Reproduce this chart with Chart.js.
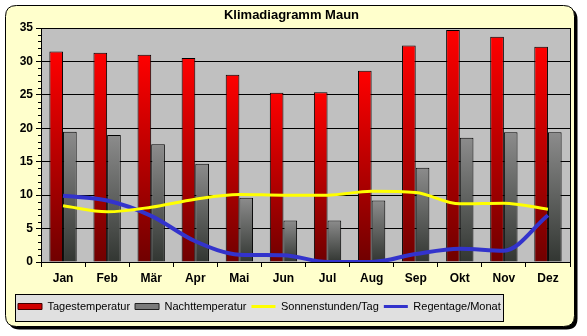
<!DOCTYPE html>
<html>
<head>
<meta charset="utf-8">
<title>Klimadiagramm Maun</title>
<script src="https://cdn.jsdelivr.net/npm/chart.js@4.4.1/dist/chart.umd.min.js"></script>
<style>
  html, body { margin: 0; padding: 0; background: #fff; }
  #wrap { position: relative; width: 587px; height: 336px; }
</style>
</head>
<body>
<div id="wrap"><canvas id="klima" width="587" height="336"></canvas></div>
<script>
// Monatswerte
const months = ['Jan', 'Feb', 'Mär', 'Apr', 'Mai', 'Jun', 'Jul', 'Aug', 'Sep', 'Okt', 'Nov', 'Dez'];
const tagTemp = [31.5, 31.3, 31.0, 30.5, 28.0, 25.3, 25.4, 28.6, 32.4, 34.7, 33.7, 32.2];
const nachtTemp = [19.5, 19.0, 17.6, 14.7, 9.6, 6.2, 6.2, 9.2, 14.1, 18.6, 19.4, 19.4];
const sonnenStunden = [8.4, 7.5, 8.2, 9.4, 10.1, 10.0, 10.0, 10.6, 10.4, 8.7, 8.8, 7.9];
const regenTage = [9.9, 9.2, 6.9, 3.1, 1.1, 1.0, 0, 0, 1.2, 2.0, 1.7, 7.0];
const yTicks = [0, 5, 10, 15, 20, 25, 30, 35];

Chart.defaults.font.family = '"Liberation Sans", Arial, sans-serif';
Chart.defaults.color = '#000';

// vertical gradient per bar, from its top down to the zero line
const barFill = (top, bottom) => (c) => {
  const { chart } = c;
  if (!chart.chartArea || c.raw == null) return top;
  const ys = chart.scales.y;
  const g = chart.ctx.createLinearGradient(0, ys.getPixelForValue(c.raw), 0, ys.getPixelForValue(0));
  g.addColorStop(0, top);
  g.addColorStop(1, bottom);
  return g;
};

function roundRect(ctx, x, y, w, h, r) {
  ctx.beginPath();
  ctx.moveTo(x + r, y);
  ctx.lineTo(x + w - r, y);
  ctx.quadraticCurveTo(x + w, y, x + w, y + r);
  ctx.lineTo(x + w, y + h - r);
  ctx.quadraticCurveTo(x + w, y + h, x + w - r, y + h);
  ctx.lineTo(x + r, y + h);
  ctx.quadraticCurveTo(x, y + h, x, y + h - r);
  ctx.lineTo(x, y + r);
  ctx.quadraticCurveTo(x, y, x + r, y);
  ctx.closePath();
}

// frame, plot background, legend box, minor ticks
const decor = {
  id: 'decor',
  beforeDraw(chart) {
    const { ctx, chartArea: a, legend } = chart;
    ctx.save();
    roundRect(ctx, 8.5, 8.5, 569, 321, 11);
    ctx.fillStyle = '#000';
    ctx.fill();
    roundRect(ctx, 5.5, 5.5, 569, 321, 11);
    ctx.fillStyle = '#FFFFCC';
    ctx.fill();
    ctx.lineWidth = 1;
    ctx.strokeStyle = '#000';
    ctx.stroke();

    ctx.fillStyle = '#C0C0C0';
    ctx.fillRect(a.left, a.top, a.right - a.left, a.bottom - a.top);

    const boxes = legend.legendHitBoxes;
    if (boxes && boxes.length) {
      const first = boxes[0], last = boxes[boxes.length - 1];
      const cy = first.top + first.height / 2;
      const x0 = Math.round(first.left - 3) + 0.5;
      const x1 = Math.round(last.left + last.width + 2) + 0.5;
      ctx.fillStyle = '#E0E0E0';
      ctx.fillRect(x0, Math.round(cy - 13) + 0.5, x1 - x0, 27);
      ctx.strokeRect(x0, Math.round(cy - 13) + 0.5, x1 - x0, 27);
    }
    ctx.restore();
  },
  beforeDatasetsDraw(chart) {
    const { ctx, chartArea: a, scales } = chart;
    ctx.save();
    ctx.strokeStyle = '#000';
    ctx.lineWidth = 1;
    ctx.beginPath();
    const xr = Math.round(a.right) + 0.5;
    ctx.moveTo(xr, a.top);
    ctx.lineTo(xr, a.bottom);
    for (let v = 0; v <= 35; v++) {
      if (v % 5 === 0) continue;
      const py = Math.round(scales.y.getPixelForValue(v)) + 0.5;
      ctx.moveTo(a.left - 3, py);
      ctx.lineTo(a.left, py);
    }
    ctx.stroke();
    ctx.restore();
  }
};

const datasets = [
  {
    type: 'bar', label: 'Tagestemperatur', data: tagTemp, order: 2,
    backgroundColor: barFill('#FF0000', '#700000'),
    borderColor: '#000', borderWidth: 1,
    legendFill: '#D00000', legendStroke: '#400000'
  },
  {
    type: 'bar', label: 'Nachttemperatur', data: nachtTemp, order: 2,
    backgroundColor: barFill('#8C8C8C', '#323632'),
    borderColor: '#000', borderWidth: 1,
    legendFill: '#7A7A7A', legendStroke: '#202020'
  },
  {
    type: 'line', label: 'Sonnenstunden/Tag', data: sonnenStunden, order: 1,
    borderColor: '#FFFF00', borderWidth: 3, pointRadius: 0,
    cubicInterpolationMode: 'monotone',
    legendFill: '#FFFF00', legendStroke: '#FFFF00'
  },
  {
    type: 'line', label: 'Regentage/Monat', data: regenTage, order: 1,
    borderColor: '#3333CC', borderWidth: 4, pointRadius: 0,
    cubicInterpolationMode: 'monotone',
    legendFill: '#3333CC', legendStroke: '#3333CC'
  }
];

new Chart(document.getElementById('klima'), {
  data: { labels: months, datasets },
  options: {
    responsive: false,
    animation: false,
    devicePixelRatio: 1,
    categoryPercentage: 0.62,
    barPercentage: 1.0,
    layout: { padding: { left: 13, right: 17, top: 0, bottom: 14 } },
    scales: {
      x: {
        offset: true,
        grid: { offset: true, drawOnChartArea: false, color: '#000', tickLength: 5 },
        border: { color: '#000' },
        ticks: { font: { size: 12, weight: 'bold' }, padding: 4, maxRotation: 0 },
        afterFit: (s) => { s.height = 34; }
      },
      y: {
        min: 0, max: 35,
        afterBuildTicks: (s) => { s.ticks = yTicks.map(v => ({ value: v })); },
        grid: { color: '#000', tickLength: 5 },
        border: { color: '#000' },
        ticks: { font: { size: 12, weight: 'bold' }, padding: 3 },
        afterFit: (s) => { s.width = 28; }
      }
    },
    plugins: {
      title: {
        display: true,
        text: 'Klimadiagramm Maun',
        font: { size: 13, weight: 'bold' },
        padding: { top: 8, bottom: 4.4 }
      },
      legend: {
        position: 'bottom',
        align: 'start',
        labels: {
          usePointStyle: true,
          pointStyleWidth: 24,
          boxHeight: 6,
          padding: 5,
          font: { size: 11 },
          generateLabels: (chart) => chart.data.datasets.map((ds, i) => ({
            text: ds.label,
            fillStyle: ds.legendFill,
            strokeStyle: ds.legendStroke,
            lineWidth: ds.type === 'line' ? 3 : 1,
            pointStyle: ds.type === 'line' ? 'line' : 'rect',
            fontColor: '#000',
            hidden: false,
            datasetIndex: i
          }))
        }
      },
      tooltip: { enabled: false }
    }
  },
  plugins: [decor]
});
</script>
</body>
</html>
